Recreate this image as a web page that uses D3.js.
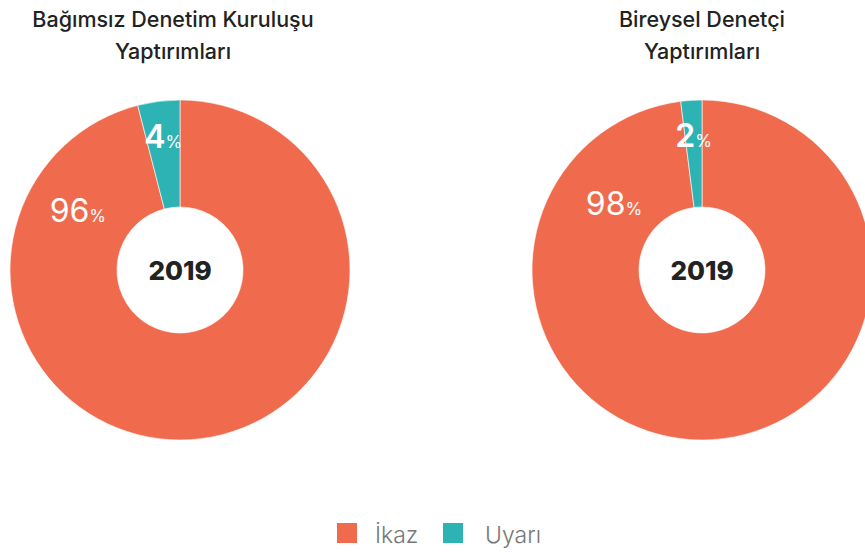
<!DOCTYPE html>
<html>
<head>
<meta charset="utf-8">
<script src="https://cdn.jsdelivr.net/npm/d3@7"></script>
<style>
  body { margin: 0; background: #fff; }
  text { font-family: Inter, "Open Sans", "Noto Sans", sans-serif; }
</style>
</head>
<body>
<div id="canvas"></div>
<script>
// data
const categories = ["İkaz", "Uyarı"];
const colours = ["#f06b4e", "#2db3b4"];
const chartTitles = [["Bağımsız Denetim Kuruluşu", "Yaptırımları"], ["Bireysel Denetçi", "Yaptırımları"]];
const yearLabel = "2019";
const kurulusValues = [96, 4];
const denetciValues = [98, 2];

const width = 865, height = 556;
const outerR = 170, innerR = 63;
const centers = [180, 702];
const titleX = [173, 702];
const cy = 270;

const svg = d3.select("#canvas")
    .append("svg")
    .attr("width", width)
    .attr("height", height);

const pie = d3.pie().sort(null).value(d => d);
const arc = d3.arc().innerRadius(innerR).outerRadius(outerR);

[kurulusValues, denetciValues].forEach((values, idx) => {
    const g = svg.append("g")
        .attr("transform", "translate(" + centers[idx] + "," + cy + ")");

    const arcs = pie(values);

    g.selectAll("path")
        .data(arcs)
        .join("path")
        .attr("d", arc)
        .attr("fill", (d, i) => colours[i])
        .attr("stroke", "#fff")
        .attr("stroke-width", 0.6);

    // labels: small slice at its middle, big slice up to the left
    arcs.forEach((d, i) => {
        let ang, r;
        if (i === 0) {
            ang = -Math.PI / 3 + (idx === 1 ? 0.12 : 0);
            r = idx === 1 ? 110 : 118;
        } else {
            ang = (d.startAngle + d.endAngle) / 2 - 2 * Math.PI;
            r = 134;
        }
        const t = g.append("text")
            .attr("x", Math.sin(ang) * r)
            .attr("y", -Math.cos(ang) * r + 11)
            .attr("text-anchor", "middle")
            .attr("fill", "#fff");
        t.append("tspan")
            .attr("font-size", 32)
            .attr("font-weight", i === 0 ? 400 : 600)
            .text(d.data);
        t.append("tspan")
            .attr("font-size", 17)
            .text("%");
    });

    g.append("text")
        .attr("y", 10)
        .attr("text-anchor", "middle")
        .attr("font-size", 26)
        .attr("font-weight", 800)
        .attr("fill", "#222")
        .text(yearLabel);

    // title
    chartTitles[idx].forEach((line, j) => {
        svg.append("text")
            .attr("x", titleX[idx])
            .attr("y", 27 + j * 32)
            .attr("text-anchor", "middle")
            .attr("font-size", 21.5)
            .attr("font-weight", 500)
            .attr("fill", "#222")
            .text(line);
    });
});

// legend
const legendX = [337, 443];
const legend = svg.selectAll(".legend")
    .data(categories)
    .join("g")
    .attr("transform", (d, i) => "translate(" + legendX[i] + ",523)");

legend.append("rect")
    .attr("width", 20)
    .attr("height", 20)
    .attr("fill", (d, i) => colours[i]);

legend.append("text")
    .attr("x", (d, i) => i === 0 ? 38 : 42)
    .attr("y", 20)
    .attr("font-size", 23)
    .attr("font-weight", 300)
    .attr("fill", "#777")
    .text(d => d);
</script>
</body>
</html>
